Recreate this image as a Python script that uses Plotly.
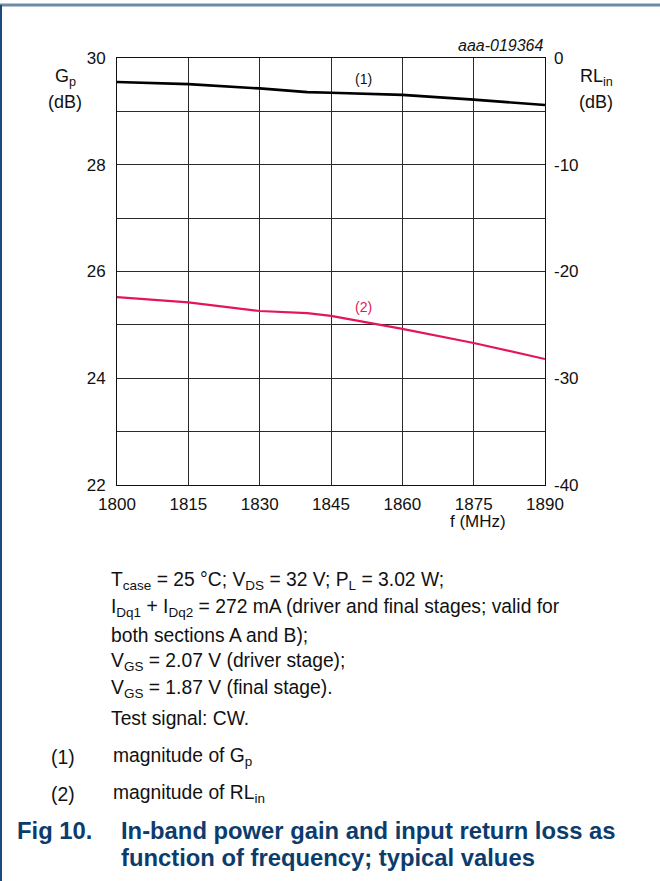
import plotly.graph_objects as go

# ---- data ----
freq_mhz = [1800, 1815, 1830, 1840, 1845, 1860, 1875, 1890]
gp_db = [29.55, 29.51, 29.43, 29.36, 29.35, 29.31, 29.22, 29.12]
rl_in_db = [-22.4, -22.9, -23.7, -23.9, -24.15, -25.37, -26.7, -28.2]

x_ticks = [1800, 1815, 1830, 1845, 1860, 1875, 1890]
gp_ticks = [22, 24, 26, 28, 30]
rl_ticks = [-40, -30, -20, -10, 0]
rl_tick_text = ["-40", "-30", "-20", "-10", "0"]

FONT = "Liberation Sans, Arial, sans-serif"
RED = "#e3165b"
NAVY = "#0c3c6c"

W, H = 660, 881
L, R, T, B = 117, 545, 58, 485


def px(x):
    return (x - L) / (R - L)


def py(y):
    return (B - y) / (B - T)


fig = go.Figure()
fig.add_trace(go.Scatter(x=freq_mhz, y=gp_db, mode="lines",
                         line=dict(color="black", width=2.6), yaxis="y",
                         showlegend=False, hoverinfo="skip"))
fig.add_trace(go.Scatter(x=freq_mhz, y=rl_in_db, mode="lines",
                         line=dict(color=RED, width=2.2), yaxis="y2",
                         showlegend=False, hoverinfo="skip"))

grid = "#2a2a2a"
fig.update_layout(
    width=W, height=H,
    margin=dict(l=L, r=W - R, t=T, b=H - B, pad=0),
    paper_bgcolor="white", plot_bgcolor="white",
    font=dict(family=FONT, size=17, color="#111"),
    xaxis=dict(range=[1800, 1890], tickvals=x_ticks, showgrid=True,
               gridcolor=grid, gridwidth=1, showline=True, linecolor="#111",
               linewidth=1, mirror=True, ticks="", zeroline=False,
               ticklabelstandoff=4, tickfont=dict(size=17)),
    yaxis=dict(range=[22, 30], tickvals=gp_ticks, showgrid=True,
               gridcolor=grid, gridwidth=1, showline=True, linecolor="#111",
               linewidth=1, mirror=True, ticks="", zeroline=False,
               minor=dict(dtick=1, showgrid=True, gridcolor=grid, gridwidth=1),
               ticklabelstandoff=7, tickfont=dict(size=17)),
    yaxis2=dict(range=[-40, 0], tickvals=rl_ticks, ticktext=rl_tick_text,
                overlaying="y", side="right",
                showgrid=False, zeroline=False, ticks="", showline=False,
                ticklabelstandoff=8, tickfont=dict(size=17)),
)

ann = []


def add_text(x, y, text, size=19.3, xanchor="left", color="#111", bold=False, italic=False, align="left"):
    t = text
    if bold:
        t = "<b>" + t + "</b>"
    if italic:
        t = "<i>" + t + "</i>"
    ann.append(dict(xref="paper", yref="paper", x=px(x), y=py(y), text=t,
                    showarrow=False, xanchor=xanchor, yanchor="middle",
                    align=align, borderpad=0, borderwidth=0,
                    font=dict(family=FONT, size=size, color=color)))


# axis titles
add_text(65, 77, "G<sub>p</sub>", size=18, xanchor="center")
add_text(65, 102, "(dB)", size=18, xanchor="center")
add_text(596, 77, "RL<sub>in</sub>", size=18, xanchor="center")
add_text(596, 102, "(dB)", size=18, xanchor="center")
add_text(478, 521, "f (MHz)", size=17, xanchor="center")
add_text(544, 46, "aaa-019364", size=16, xanchor="right", italic=True)

# curve labels
add_text(363, 79, "(1)", size=14, xanchor="center")
add_text(363, 307, "(2)", size=14, xanchor="center", color=RED)

# conditions
add_text(111, 581, "T<sub>case</sub> = 25 °C; V<sub>DS</sub> = 32 V; P<sub>L</sub> = 3.02 W;")
add_text(111, 608, "I<sub>Dq1</sub> + I<sub>Dq2</sub> = 272 mA (driver and final stages; valid for")
add_text(111, 635, "both sections A and B);")
add_text(111, 662, "V<sub>GS</sub> = 2.07 V (driver stage);")
add_text(111, 689, "V<sub>GS</sub> = 1.87 V (final stage).")
add_text(111, 718, "Test signal: CW.")

add_text(51, 757, "(1)")
add_text(113, 757, "magnitude of G<sub>p</sub>")
add_text(51, 794, "(2)")
add_text(113, 794, "magnitude of RL<sub>in</sub>")

add_text(17, 830, "Fig 10.", size=23.8, color=NAVY, bold=True)
add_text(121, 830, "In-band power gain and input return loss as", size=23.8, color=NAVY, bold=True)
add_text(121, 858, "function of frequency; typical values", size=23.8, color=NAVY, bold=True)

fig.update_layout(annotations=ann)

# frame lines
fig.add_shape(type="line", xref="paper", yref="paper", x0=px(0), x1=px(660),
              y0=py(5), y1=py(5), line=dict(color="#6d8ca6", width=3))
fig.add_shape(type="line", xref="paper", yref="paper", x0=px(1), x1=px(1),
              y0=py(5), y1=py(881), line=dict(color="#1b4b7b", width=2))

fig.write_html("out.html", config={"displayModeBar": False},
               post_script="document.body.style.margin='0';")
